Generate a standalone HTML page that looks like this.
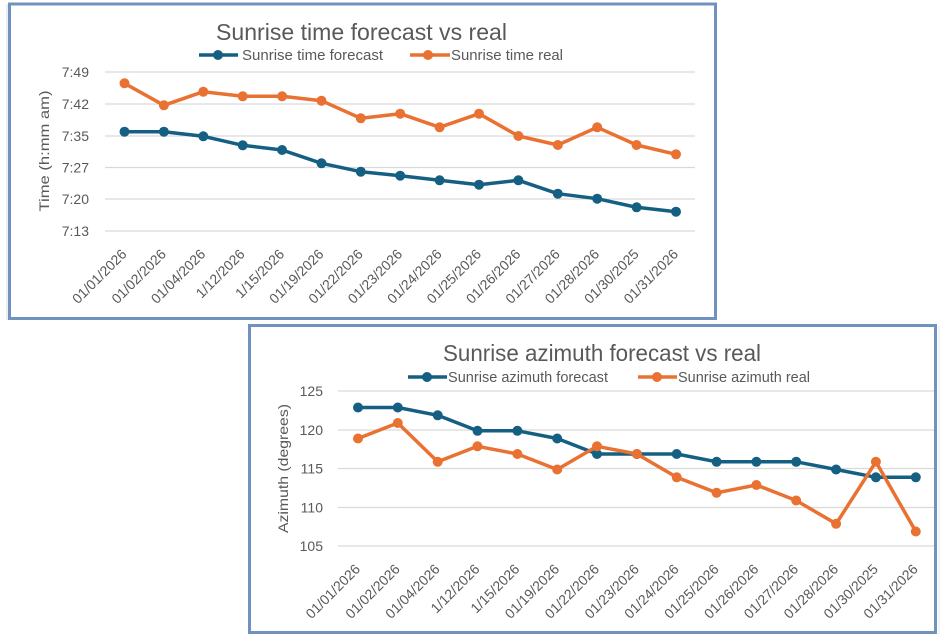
<!DOCTYPE html>
<html><head><meta charset="utf-8"><style>
html,body{margin:0;padding:0;background:#fff;width:944px;height:642px;overflow:hidden}
svg{display:block}
text{font-family:"Liberation Sans",sans-serif;fill:#595959}
</style></head><body>
<svg width="944" height="642" viewBox="0 0 944 642" xmlns="http://www.w3.org/2000/svg">
<!-- TOP CHART -->
<rect x="9.5" y="4" width="706" height="314.5" fill="#fff" stroke="#7092BE" stroke-width="3"/>
<line x1="7" y1="4" x2="7" y2="320" stroke="#D5DCE6" stroke-width="1"/>
<g stroke="#D9D9D9" stroke-width="1.2">
<line x1="105" y1="72" x2="695" y2="72"/>
<line x1="105" y1="104" x2="695" y2="104"/>
<line x1="105" y1="136" x2="695" y2="136"/>
<line x1="105" y1="167.5" x2="695" y2="167.5"/>
<line x1="105" y1="199" x2="695" y2="199"/>
<line x1="105" y1="231" x2="695" y2="231"/>
</g>
<g font-size="14" text-anchor="end">
<text x="89" y="77">7:49</text>
<text x="89" y="109">7:42</text>
<text x="89" y="141">7:35</text>
<text x="89" y="172.5">7:27</text>
<text x="89" y="204">7:20</text>
<text x="89" y="236">7:13</text>
</g>
<text transform="translate(49,151) rotate(-90)" font-size="14" text-anchor="middle" textLength="121" lengthAdjust="spacingAndGlyphs">Time (h:mm am)</text>
<text x="216" y="40" font-size="23" textLength="291" lengthAdjust="spacingAndGlyphs">Sunrise time forecast vs real</text>
<line x1="199" y1="55" x2="238" y2="55" stroke="#156082" stroke-width="3.5"/>
<circle cx="218" cy="55" r="5" fill="#156082"/>
<text x="242" y="60" font-size="14.5" textLength="141" lengthAdjust="spacingAndGlyphs">Sunrise time forecast</text>
<line x1="410" y1="55" x2="450" y2="55" stroke="#E97132" stroke-width="3.5"/>
<circle cx="428" cy="55" r="5" fill="#E97132"/>
<text x="451" y="60" font-size="14.5" textLength="112" lengthAdjust="spacingAndGlyphs">Sunrise time real</text>

<polyline fill="none" stroke="#156082" stroke-width="3.5" stroke-linejoin="round" points="124.5,131.7 163.9,131.7 203.3,136.3 242.7,145.3 282.1,150 321.5,163.3 360.8,171.7 400.2,175.7 439.6,180.3 479,184.7 518.4,180.3 557.8,193.7 597.2,198.7 636.6,207.3 676,211.7"/>
<g fill="#156082">
<circle cx="124.5" cy="131.7" r="5"/><circle cx="163.9" cy="131.7" r="5"/><circle cx="203.3" cy="136.3" r="5"/><circle cx="242.7" cy="145.3" r="5"/><circle cx="282.1" cy="150" r="5"/><circle cx="321.5" cy="163.3" r="5"/><circle cx="360.8" cy="171.7" r="5"/><circle cx="400.2" cy="175.7" r="5"/><circle cx="439.6" cy="180.3" r="5"/><circle cx="479" cy="184.7" r="5"/><circle cx="518.4" cy="180.3" r="5"/><circle cx="557.8" cy="193.7" r="5"/><circle cx="597.2" cy="198.7" r="5"/><circle cx="636.6" cy="207.3" r="5"/><circle cx="676" cy="211.7" r="5"/>
</g>
<polyline fill="none" stroke="#E97132" stroke-width="3.5" stroke-linejoin="round" points="124.5,83.3 163.9,105.3 203.3,91.7 242.7,96.3 282.1,96.3 321.5,100.7 360.8,118.3 400.2,113.7 439.6,127.3 479,113.7 518.4,136 557.8,145 597.2,127.3 636.6,145 676,154.3"/>
<g fill="#E97132">
<circle cx="124.5" cy="83.3" r="5"/><circle cx="163.9" cy="105.3" r="5"/><circle cx="203.3" cy="91.7" r="5"/><circle cx="242.7" cy="96.3" r="5"/><circle cx="282.1" cy="96.3" r="5"/><circle cx="321.5" cy="100.7" r="5"/><circle cx="360.8" cy="118.3" r="5"/><circle cx="400.2" cy="113.7" r="5"/><circle cx="439.6" cy="127.3" r="5"/><circle cx="479" cy="113.7" r="5"/><circle cx="518.4" cy="136" r="5"/><circle cx="557.8" cy="145" r="5"/><circle cx="597.2" cy="127.3" r="5"/><circle cx="636.6" cy="145" r="5"/><circle cx="676" cy="154.3" r="5"/>
</g>
<g font-size="14" text-anchor="end">
<text transform="translate(127.5,255) rotate(-45)">01/01/2026</text>
<text transform="translate(166.9,255) rotate(-45)">01/02/2026</text>
<text transform="translate(206.3,255) rotate(-45)">01/04/2026</text>
<text transform="translate(245.7,255) rotate(-45)">1/12/2026</text>
<text transform="translate(285.1,255) rotate(-45)">1/15/2026</text>
<text transform="translate(324.5,255) rotate(-45)">01/19/2026</text>
<text transform="translate(363.8,255) rotate(-45)">01/22/2026</text>
<text transform="translate(403.2,255) rotate(-45)">01/23/2026</text>
<text transform="translate(442.6,255) rotate(-45)">01/24/2026</text>
<text transform="translate(482,255) rotate(-45)">01/25/2026</text>
<text transform="translate(521.4,255) rotate(-45)">01/26/2026</text>
<text transform="translate(560.8,255) rotate(-45)">01/27/2026</text>
<text transform="translate(600.2,255) rotate(-45)">01/28/2026</text>
<text transform="translate(639.6,255) rotate(-45)">01/30/2025</text>
<text transform="translate(679,255) rotate(-45)">01/31/2026</text>
</g>

<!-- BOTTOM CHART -->
<rect x="249.5" y="325.5" width="686" height="307" fill="#fff" stroke="#7092BE" stroke-width="3"/>
<g stroke="#D9D9D9" stroke-width="1.2">
<line x1="338" y1="391" x2="934" y2="391"/>
<line x1="338" y1="430" x2="934" y2="430"/>
<line x1="338" y1="468.5" x2="934" y2="468.5"/>
<line x1="338" y1="507.5" x2="934" y2="507.5"/>
<line x1="338" y1="546" x2="934" y2="546"/>
</g>
<g font-size="14" text-anchor="end">
<text x="323" y="396">125</text>
<text x="323" y="435">120</text>
<text x="323" y="473.5">115</text>
<text x="323" y="512.5">110</text>
<text x="323" y="551">105</text>
</g>
<text transform="translate(288,468.5) rotate(-90)" font-size="14" text-anchor="middle" textLength="129" lengthAdjust="spacingAndGlyphs">Azimuth (degrees)</text>
<text x="443" y="361" font-size="23" textLength="318" lengthAdjust="spacingAndGlyphs">Sunrise azimuth forecast vs real</text>
<line x1="408" y1="377" x2="447" y2="377" stroke="#156082" stroke-width="3.5"/>
<circle cx="427" cy="377" r="5" fill="#156082"/>
<text x="448" y="382" font-size="14.5" textLength="160" lengthAdjust="spacingAndGlyphs">Sunrise azimuth forecast</text>
<line x1="638" y1="377" x2="677" y2="377" stroke="#E97132" stroke-width="3.5"/>
<circle cx="657" cy="377" r="5" fill="#E97132"/>
<text x="678" y="382" font-size="14.5" textLength="132" lengthAdjust="spacingAndGlyphs">Sunrise azimuth real</text>

<polyline fill="none" stroke="#156082" stroke-width="3.5" stroke-linejoin="round" points="358,407.5 397.8,407.5 437.7,415.3 477.5,430.8 517.4,430.8 557.2,438.5 597,454 636.9,454 676.7,454 716.6,461.8 756.4,461.8 796.2,461.8 836.1,469.5 875.9,477.3 915.8,477.3"/>
<g fill="#156082">
<circle cx="358" cy="407.5" r="5"/><circle cx="397.8" cy="407.5" r="5"/><circle cx="437.7" cy="415.3" r="5"/><circle cx="477.5" cy="430.8" r="5"/><circle cx="517.4" cy="430.8" r="5"/><circle cx="557.2" cy="438.5" r="5"/><circle cx="597" cy="454" r="5"/><circle cx="636.9" cy="454" r="5"/><circle cx="676.7" cy="454" r="5"/><circle cx="716.6" cy="461.8" r="5"/><circle cx="756.4" cy="461.8" r="5"/><circle cx="796.2" cy="461.8" r="5"/><circle cx="836.1" cy="469.5" r="5"/><circle cx="875.9" cy="477.3" r="5"/><circle cx="915.8" cy="477.3" r="5"/>
</g>
<polyline fill="none" stroke="#E97132" stroke-width="3.5" stroke-linejoin="round" points="358,438.5 397.8,423 437.7,461.8 477.5,446.3 517.4,454 557.2,469.5 597,446.3 636.9,454 676.7,477.3 716.6,492.8 756.4,485 796.2,500.5 836.1,523.8 875.9,461.8 915.8,531.5"/>
<g fill="#E97132">
<circle cx="358" cy="438.5" r="5"/><circle cx="397.8" cy="423" r="5"/><circle cx="437.7" cy="461.8" r="5"/><circle cx="477.5" cy="446.3" r="5"/><circle cx="517.4" cy="454" r="5"/><circle cx="557.2" cy="469.5" r="5"/><circle cx="597" cy="446.3" r="5"/><circle cx="636.9" cy="454" r="5"/><circle cx="676.7" cy="477.3" r="5"/><circle cx="716.6" cy="492.8" r="5"/><circle cx="756.4" cy="485" r="5"/><circle cx="796.2" cy="500.5" r="5"/><circle cx="836.1" cy="523.8" r="5"/><circle cx="875.9" cy="461.8" r="5"/><circle cx="915.8" cy="531.5" r="5"/>
</g>
<g font-size="14" text-anchor="end">
<text transform="translate(361,570) rotate(-45)">01/01/2026</text>
<text transform="translate(400.8,570) rotate(-45)">01/02/2026</text>
<text transform="translate(440.7,570) rotate(-45)">01/04/2026</text>
<text transform="translate(480.5,570) rotate(-45)">1/12/2026</text>
<text transform="translate(520.4,570) rotate(-45)">1/15/2026</text>
<text transform="translate(560.2,570) rotate(-45)">01/19/2026</text>
<text transform="translate(600,570) rotate(-45)">01/22/2026</text>
<text transform="translate(639.9,570) rotate(-45)">01/23/2026</text>
<text transform="translate(679.7,570) rotate(-45)">01/24/2026</text>
<text transform="translate(719.6,570) rotate(-45)">01/25/2026</text>
<text transform="translate(759.4,570) rotate(-45)">01/26/2026</text>
<text transform="translate(799.2,570) rotate(-45)">01/27/2026</text>
<text transform="translate(839.1,570) rotate(-45)">01/28/2026</text>
<text transform="translate(878.9,570) rotate(-45)">01/30/2025</text>
<text transform="translate(918.8,570) rotate(-45)">01/31/2026</text>
</g>
<line x1="939" y1="326" x2="939" y2="634" stroke="#E4E8EE" stroke-width="1"/>
</svg>
</body></html>
